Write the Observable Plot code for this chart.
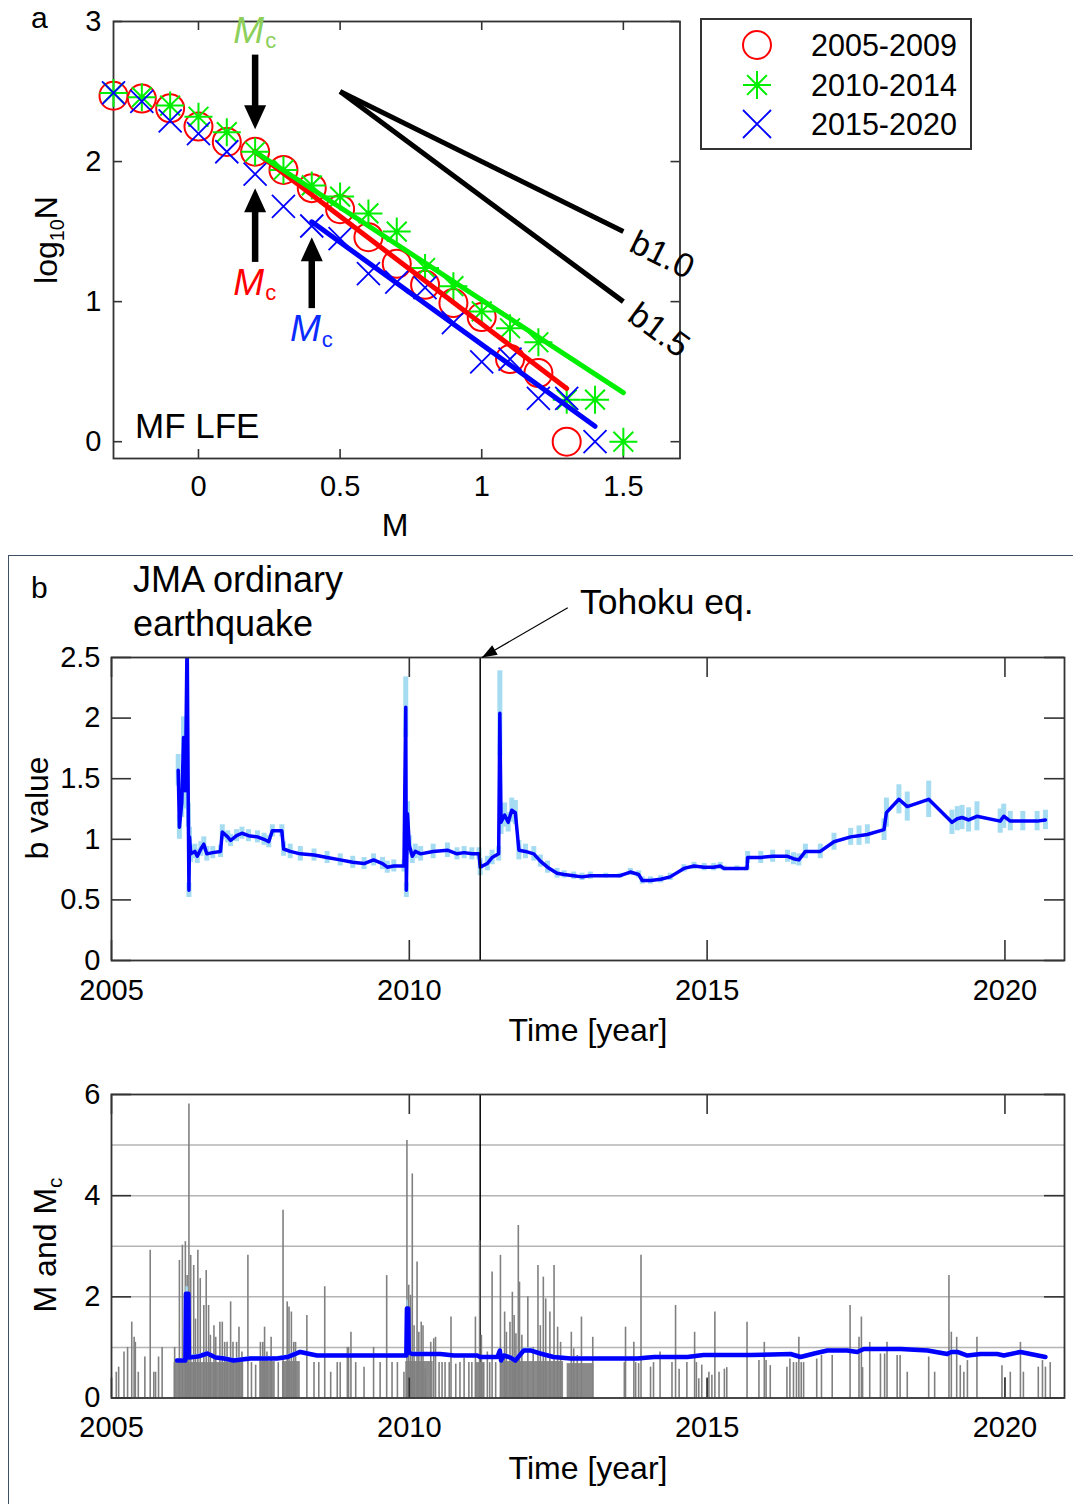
<!DOCTYPE html>
<html><head><meta charset="utf-8">
<script src="https://cdn.jsdelivr.net/npm/d3@7"></script>
<script src="https://cdn.jsdelivr.net/npm/@observablehq/plot@0.6"></script>
<style>
body{margin:0;background:#fff;}
#root{position:relative;width:1073px;height:1504px;overflow:hidden;font-family:"Liberation Sans",Arial,Helvetica,sans-serif;color:#000;background:#fff;}
.abs{position:absolute;white-space:nowrap;line-height:1;}
</style></head><body><div id="root"></div><script>
// ================= DATA =================
// Panel a: cumulative frequency-magnitude (log10 N) of MF LFEs
const magBins = [-0.3,-0.2,-0.1,0,0.1,0.2,0.3,0.4,0.5,0.6,0.7,0.8,0.9,1.0,1.1,1.2,1.3,1.4,1.5];
const logN_2005_2009 = [2.47,2.45,2.38,2.25,2.14,2.07,1.94,1.81,1.66,1.46,1.27,1.12,0.99,0.89,0.59,0.49,0.00,null,null];
const logN_2010_2014 = [2.49,2.46,2.40,2.32,2.21,2.07,1.94,1.83,1.75,1.63,1.50,1.24,1.11,0.93,0.81,0.71,0.30,0.30,0.00];
const logN_2015_2020 = [2.49,2.43,2.29,2.20,2.07,1.91,1.68,1.54,1.45,1.20,1.14,1.10,0.85,0.57,0.59,0.31,0.31,0.00,null];
const periodLabels = ["2005-2009","2010-2014","2015-2020"];
// fitted G-R lines (start/end magnitude and log10N) per period
const fitMagStart = [0.2, 0.2, 0.4];
const fitMagEnd   = [1.3, 1.5, 1.4];
const fitLogStart = [2.07, 2.07, 1.57];
const fitLogEnd   = [0.38, 0.35, 0.11];
// reference slopes
const refLabels = ["b1.0","b1.5"];
const refMagStart = [0.5, 0.5];
const refLogStart = [2.5, 2.5];
const refMagEnd = [1.5, 1.5];
const refLogEnd = [1.5, 1.0];
const refB = [1.0, 1.5];
// Mc annotations (red, green, blue)
const mcMag = [0.2, 0.2, 0.4];
const mcArrowTail = [1.28, 2.76, 0.95];
const mcArrowTip  = [1.81, 2.23, 1.46];
const mcLabelY    = [1.13, 2.93, 0.80];

// Panel b: b value through time (JMA ordinary earthquakes)
const bTime = [2006.12,2006.14,2006.18,2006.21,2006.24,2006.27,2006.29,2006.30,2006.31,2006.33,
 2006.40,2006.44,2006.50,2006.55,2006.60,2006.70,2006.83,2006.86,2006.95,
 2007.00,2007.10,2007.19,2007.30,2007.45,2007.56,2007.64,2007.70,2007.86,2007.89,
 2008.00,2008.17,2008.40,2008.62,2008.84,
 2009.05,2009.24,2009.40,2009.55,2009.63,2009.74,2009.91,2009.94,2009.95,2009.97,
 2010.00,2010.05,2010.10,
 2010.19,2010.40,2010.64,2010.80,2010.92,
 2011.05,2011.17,2011.19,2011.31,2011.39,2011.50,2011.52,2011.54,2011.60,2011.66,2011.72,2011.78,2011.84,2011.95,
 2012.09,2012.20,2012.32,2012.48,2012.60,2012.76,2012.90,
 2013.04,2013.30,2013.54,2013.71,2013.85,2013.91,
 2014.05,2014.22,2014.38,2014.61,2014.78,2014.95,
 2015.11,2015.22,2015.28,2015.50,2015.67,
 2015.68,2015.90,
 2016.10,2016.35,2016.45,2016.54,2016.65,2016.90,
 2017.13,2017.41,2017.55,2017.69,2017.97,
 2018.01,2018.22,2018.36,2018.72,
 2019.11,2019.20,2019.28,2019.39,2019.53,2019.92,2019.98,
 2020.09,2020.30,2020.54,2020.68];
const bValue = [1.57,1.10,1.30,1.84,1.40,2.70,1.20,0.58,1.02,0.88,
 0.90,0.86,0.92,0.96,0.88,0.89,0.90,1.06,1.02,
 0.99,1.03,1.05,1.03,1.02,1.00,0.98,1.07,1.07,0.92,
 0.90,0.88,0.87,0.85,0.83,
 0.81,0.80,0.83,0.80,0.77,0.78,0.78,2.09,0.58,1.21,
 0.95,0.86,0.90,
 0.88,0.90,0.91,0.88,0.89,
 0.88,0.88,0.77,0.80,0.85,0.88,2.04,1.14,1.20,1.14,1.24,1.22,0.91,0.90,
 0.88,0.82,0.77,0.72,0.71,0.70,0.69,
 0.70,0.70,0.70,0.73,0.71,0.66,
 0.66,0.67,0.69,0.76,0.78,0.77,
 0.77,0.78,0.76,0.76,0.76,
 0.85,0.85,
 0.86,0.86,0.84,0.83,0.90,0.90,
 0.98,1.02,1.03,1.04,1.08,
 1.22,1.33,1.27,1.33,
 1.14,1.17,1.18,1.16,1.19,1.15,1.19,
 1.15,1.15,1.15,1.16];
const bError = [0.13,0.10,0.12,0.17,0.15,0.20,0.10,0.06,0.08,0.07,
 0.06,0.06,0.06,0.06,0.06,0.05,0.05,0.06,0.05,
 0.05,0.05,0.05,0.05,0.05,0.05,0.05,0.05,0.05,0.06,
 0.06,0.06,0.05,0.05,0.05,
 0.05,0.05,0.05,0.05,0.05,0.05,0.05,0.25,0.06,0.10,
 0.08,0.06,0.06,
 0.06,0.06,0.06,0.05,0.05,
 0.05,0.05,0.07,0.06,0.06,0.06,0.35,0.10,0.10,0.08,0.10,0.10,0.08,0.06,
 0.06,0.05,0.05,0.04,0.03,0.03,0.03,
 0.03,0.02,0.02,0.03,0.03,0.03,
 0.03,0.03,0.03,0.03,0.03,0.03,
 0.03,0.03,0.02,0.02,0.02,
 0.05,0.05,
 0.05,0.05,0.05,0.05,0.06,0.06,
 0.07,0.07,0.08,0.08,0.09,
 0.12,0.12,0.12,0.15,
 0.10,0.10,0.10,0.10,0.12,0.10,0.10,
 0.08,0.08,0.08,0.08];
const tohokuTime = 2011.19;
const tohokuArrowTail = [2012.66, 2.91];
const tohokuArrowTip = [2011.22, 2.5];

// Panel c: magnitudes and Mc through time
const mcTime = [2006.10,2006.24,2006.25,2006.29,2006.30,2006.45,2006.61,2006.75,2006.89,2007.05,2007.33,2007.78,2007.95,2008.17,2008.45,2009.20,2009.85,2009.95,2009.96,2009.98,2009.99,2010.05,2010.36,2010.52,2010.75,2011.14,2011.19,2011.48,2011.52,2011.54,2011.59,2011.70,2011.78,2011.92,2012.03,2012.20,2012.42,2012.71,2013.30,2013.83,2014.11,2014.67,2014.94,2015.73,2016.10,2016.40,2016.57,2016.80,2017.02,2017.35,2017.52,2017.63,2018.25,2018.70,2019.03,2019.10,2019.20,2019.37,2019.59,2019.87,2019.98,2020.26,2020.68];
const mcValue = [0.74,0.74,2.06,2.06,0.80,0.82,0.88,0.80,0.78,0.74,0.78,0.78,0.81,0.91,0.84,0.84,0.84,0.84,1.77,1.77,0.90,0.87,0.87,0.87,0.84,0.84,0.81,0.81,0.94,0.74,0.84,0.80,0.74,0.94,0.94,0.88,0.81,0.78,0.78,0.78,0.81,0.81,0.85,0.85,0.86,0.87,0.81,0.88,0.94,0.94,0.91,0.97,0.97,0.94,0.87,0.91,0.91,0.84,0.87,0.87,0.84,0.91,0.81];
const mcError = [0.04,0.04,0.14,0.14,0.04,0.04,0.04,0.04,0.04,0.04,0.04,0.04,0.04,0.04,0.03,0.03,0.03,0.03,0.16,0.16,0.05,0.04,0.03,0.03,0.03,0.03,0.03,0.03,0.05,0.05,0.04,0.04,0.05,0.05,0.05,0.04,0.04,0.03,0.03,0.03,0.03,0.03,0.03,0.03,0.03,0.03,0.04,0.03,0.03,0.03,0.03,0.03,0.03,0.03,0.04,0.04,0.03,0.03,0.03,0.03,0.03,0.03,0.03];
const eventTime = [2005.08,2005.12,2005.21,2005.27,2005.34,2005.38,2005.40,2005.45,2005.56,2005.65,2005.71,2005.74,2005.79,2005.85,
 2006.06,2006.14,2006.19,2006.24,2006.27,2006.30,2006.33,2006.38,2006.41,2006.45,2006.49,2006.55,2006.59,2006.63,2006.66,2006.72,2006.75,2006.82,2006.86,2006.90,2006.94,
 2007.00,2007.04,2007.10,2007.14,2007.19,2007.29,2007.35,2007.42,2007.50,2007.54,2007.57,2007.61,2007.68,2007.80,2007.88,2007.95,2007.98,
 2008.02,2008.06,2008.09,2008.28,2008.40,2008.48,2008.58,2008.68,2008.79,2008.84,2008.96,2008.98,
 2009.02,2009.10,2009.24,2009.40,2009.51,2009.62,2009.71,2009.80,2009.91,2009.96,2009.99,
 2010.02,2010.05,2010.08,2010.13,2010.16,2010.20,2010.23,2010.27,2010.36,2010.41,2010.44,2010.50,2010.55,2010.60,2010.67,2010.70,2010.78,2010.85,2010.92,
 2011.00,2011.05,2011.11,2011.18,2011.21,2011.25,2011.31,2011.35,2011.39,2011.45,2011.53,2011.60,2011.63,2011.69,2011.73,2011.76,2011.79,2011.83,2011.85,2011.89,2011.99,
 2012.08,2012.16,2012.20,2012.25,2012.29,2012.36,2012.43,2012.49,2012.54,2012.72,2012.76,2012.82,2012.89,
 2013.08,2013.61,2013.63,2013.77,2013.80,2013.85,2013.89,
 2014.05,2014.10,2014.21,2014.41,2014.47,2014.53,2014.66,2014.79,2014.82,2014.86,2014.91,
 2015.00,2015.03,2015.08,2015.13,2015.20,2015.29,2015.33,2015.67,2015.87,2015.96,2015.99,
 2016.06,2016.34,2016.39,2016.45,2016.50,2016.54,2016.58,2016.62,2016.84,2016.92,
 2017.10,2017.40,2017.55,2017.59,2017.61,2017.73,2017.91,2017.98,
 2018.02,2018.19,2018.24,2018.36,2018.72,2018.82,
 2019.06,2019.10,2019.19,2019.25,2019.31,2019.37,2019.53,2019.95,
 2020.00,2020.09,2020.26,2020.31,2020.56,2020.63,2020.68,2020.76];
const eventMag = [0.51,0.61,0.91,1.00,1.50,1.20,1.10,0.51,0.81,2.92,0.51,0.51,0.81,1.00,
 1.00,2.72,3.02,3.09,2.42,5.81,2.82,2.62,1.56,2.92,2.36,1.83,2.52,1.83,1.24,1.43,1.20,1.50,1.50,1.10,1.10,
 1.90,1.10,1.10,1.40,0.91,2.82,0.70,0.65,1.10,1.10,1.40,0.91,1.20,0.70,3.71,1.90,1.80,
 1.70,1.10,1.10,1.63,0.70,0.70,2.20,0.51,0.70,0.70,1.00,1.00,
 1.30,0.70,0.61,1.00,0.70,2.42,0.70,0.70,0.51,5.09,2.23,
 2.03,4.43,1.43,2.69,1.30,1.50,1.43,0.57,1.10,1.17,1.20,0.70,0.70,0.70,0.70,1.60,0.67,0.70,0.78,
 0.70,0.70,1.60,3.11,1.24,0.70,0.91,0.70,2.49,0.70,2.82,1.70,1.30,1.50,2.09,1.63,1.27,3.41,2.29,1.24,2.00,
 1.00,2.62,1.43,2.39,1.96,1.70,2.62,1.40,1.10,1.30,0.97,0.84,1.60,
 1.20,0.70,1.40,1.10,0.70,0.68,2.82,
 0.61,0.70,0.91,0.70,1.83,0.57,0.70,1.30,0.70,0.38,0.65,
 0.38,0.51,0.45,1.70,0.51,0.57,0.60,1.50,0.74,1.10,0.74,
 0.64,0.61,0.77,0.70,0.70,1.20,0.70,0.70,0.77,0.84,
 0.84,1.83,1.20,1.60,0.60,1.10,0.87,0.87,
 1.10,0.84,0.84,0.51,0.81,0.51,
 2.42,1.30,1.20,0.64,0.51,0.74,1.20,0.64,
 0.40,0.51,1.10,0.51,0.61,0.74,0.61,0.70];
// periods of dense small-event activity (drawn as filled blocks)
const denseStart = [2006.05, 2007.49, 2007.87, 2009.94, 2011.11, 2011.53, 2012.65];
const denseEnd   = [2007.22, 2007.75, 2008.17, 2010.40, 2011.25, 2012.59, 2013.10];
const denseTop   = [0.70, 0.72, 0.72, 0.72, 0.70, 0.72, 0.68];
const gridLevels = [1, 2, 3, 4, 5];

// ticks
const aXTicks = [0, 0.5, 1, 1.5], aYTicks = [0, 1, 2, 3];
const yearTicks = [2005, 2010, 2015, 2020];
const bYTicks = [0, 0.5, 1, 1.5, 2, 2.5];
const cYTicks = [0, 2, 4, 6];

// ================= STYLE / HELPERS =================
const FONT = '"Liberation Sans", Arial, Helvetica, sans-serif';
const RED = "#ff0000", GREEN = "#00ee00", BLUE = "#0000ff";
const mcLabelColors = ["#ff0000", "#8ccf5a", "#0a2cff"];
const AXC = "#333333";
const LIGHTBLUE = "#a6dcf2";
const root = document.getElementById("root");

const asterisk8 = {draw(ctx, size){ const r = Math.sqrt(size/Math.PI), d = r*Math.SQRT1_2;
  ctx.moveTo(-r,0);ctx.lineTo(r,0);ctx.moveTo(0,-r);ctx.lineTo(0,r);
  ctx.moveTo(-d,-d);ctx.lineTo(d,d);ctx.moveTo(-d,d);ctx.lineTo(d,-d);}};
const timesX = {draw(ctx, size){ const r = Math.sqrt(size/Math.PI);
  ctx.moveTo(-r,-r);ctx.lineTo(r,r);ctx.moveTo(-r,r);ctx.lineTo(r,-r);}};
function triangle(ux, uy, L, Wd){ // tip at origin, pointing along (ux,uy)
  const n = Math.hypot(ux,uy); ux/=n; uy/=n; const px=-uy, py=ux, bx=-ux*L, by=-uy*L;
  return {draw(ctx){ ctx.moveTo(0,0); ctx.lineTo(bx+px*Wd/2, by+py*Wd/2); ctx.lineTo(bx-px*Wd/2, by-py*Wd/2); ctx.closePath(); }};
}
function boxTicks(xt, yt, pw, ph, len){
  const s = {stroke: AXC, strokeWidth: 1.6};
  return [
    Plot.ruleX(xt, {x: d=>d, insetTop: ph-len, ...s}),
    Plot.ruleX(xt, {x: d=>d, insetBottom: ph-len, ...s}),
    Plot.ruleY(yt, {y: d=>d, insetRight: pw-len, ...s}),
    Plot.ruleY(yt, {y: d=>d, insetLeft: pw-len, ...s}),
    Plot.frame({stroke: AXC, strokeWidth: 1.8})
  ];
}
function place(svg, top){ svg.style.position="absolute"; svg.style.left="0px"; svg.style.top=top+"px"; root.appendChild(svg); }
function addText(html, x, baseline, size, opts={}){
  const d = document.createElement("div"); d.className="abs"; d.innerHTML = html;
  d.style.fontSize = size+"px"; d.style.left = x+"px"; d.style.top = (baseline - 0.8465*size)+"px";
  if (opts.center) d.style.transform = "translateX(-50%)";
  if (opts.color) d.style.color = opts.color;
  root.appendChild(d); return d;
}
function addRotText(html, cx, cy, size){
  const d = document.createElement("div"); d.className="abs"; d.innerHTML = html;
  d.style.fontSize = size+"px"; d.style.left = cx+"px"; d.style.top = cy+"px";
  d.style.transform = "translate(-50%,-50%) rotate(-90deg)";
  root.appendChild(d); return d;
}
const baseStyle = {fontFamily: FONT, fontSize: "29px", color: "#000", background: "transparent", overflow: "visible"};

// ================= PANEL A =================
{
  const W = 710, H = 545, L = 113, R = 679.5, T = 21, B = 458;
  const pw = R - L, ph = B - T;
  const xDom = [-0.3, 1.7], yDom = [-0.12, 3];
  const pts = [logN_2005_2009, logN_2010_2014, logN_2015_2020].map(arr =>
    arr.map((v,j) => ({M: magBins[j], logN: v})).filter(d => d.logN != null));
  const fits = fitMagStart.map((m,i) => [{M: m, L: fitLogStart[i]}, {M: fitMagEnd[i], L: fitLogEnd[i]}]);
  const pxX = pw/(xDom[1]-xDom[0]), pxY = ph/(yDom[1]-yDom[0]);
  const refs = refLabels.map((lab,i) => ({label: lab, M0: refMagStart[i], L0: refLogStart[i], M1: refMagEnd[i], L1: refLogEnd[i],
    angle: Math.atan(refB[i]*pxY/pxX)*180/Math.PI}));
  const mcs = mcMag.map((m,i) => ({m, tail: mcArrowTail[i], tip: mcArrowTip[i], ly: mcLabelY[i], color: mcLabelColors[i]}));
  const up = mcs.filter(d => d.tip > d.tail), down = mcs.filter(d => d.tip < d.tail);
  const svg = Plot.plot({
    width: W, height: H, marginLeft: L, marginRight: W-R, marginTop: T, marginBottom: H-B,
    x: {domain: xDom, axis: null}, y: {domain: yDom, axis: null}, color: {type: "identity"},
    style: baseStyle,
    marks: [
      ...boxTicks(aXTicks, aYTicks, pw, ph, 9),
      Plot.dot(pts[0], {x: "M", y: "logN", symbol: "circle", r: 14, stroke: RED, strokeWidth: 2, fill: "none"}),
      Plot.dot(pts[1], {x: "M", y: "logN", symbol: asterisk8, r: 14, stroke: GREEN, strokeWidth: 2, fill: "none"}),
      Plot.dot(pts[2], {x: "M", y: "logN", symbol: timesX, r: 11.5, stroke: BLUE, strokeWidth: 1.8, fill: "none"}),
      Plot.line(fits[0], {x: "M", y: "L", stroke: RED, strokeWidth: 5}),
      Plot.line(fits[2], {x: "M", y: "L", stroke: BLUE, strokeWidth: 5}),
      Plot.line(fits[1], {x: "M", y: "L", stroke: GREEN, strokeWidth: 5}),
      Plot.link(refs, {x1: "M0", y1: "L0", x2: "M1", y2: "L1", stroke: "#000", strokeWidth: 5}),
      Plot.text(refs, {x: "M1", y: "L1", text: "label", rotate: "angle", textAnchor: "start", fontSize: 34, dx: 9, dy: 9}),
      Plot.ruleX(up, {x: "m", y1: "tip", y2: "tail", stroke: "#000", strokeWidth: 6.5, insetTop: 9}),
      Plot.ruleX(down, {x: "m", y1: "tail", y2: "tip", stroke: "#000", strokeWidth: 6.5, insetBottom: 9}),
      Plot.dot(up, {x: "m", y: "tip", symbol: triangle(0,-1,24,22), r: 5, fill: "#000"}),
      Plot.dot(down, {x: "m", y: "tip", symbol: triangle(0,1,24,22), r: 5, fill: "#000"}),
      Plot.text(mcs, {x: "m", y: "ly", text: () => "M", fill: "color", fontStyle: "italic", fontSize: 37, textAnchor: "end", dx: 9}),
      Plot.text(mcs, {x: "m", y: "ly", text: () => "c", fill: "color", fontSize: 22, textAnchor: "start", dx: 10, dy: 10}),
      Plot.axisX(aXTicks, {anchor: "bottom", tickSize: 0, tickPadding: 17, tickFormat: d => String(d), label: null}),
      Plot.axisY(aYTicks, {anchor: "left", tickSize: 0, tickPadding: 12, tickFormat: d => String(d), label: null})
    ]
  });
  place(svg, 0);
}

// legend for panel a
{
  const box = document.createElement("div");
  box.style.cssText = "position:absolute;left:700px;top:18px;width:268px;height:128px;border:2.5px solid #333;background:#fff;";
  root.appendChild(box);
  const ys = [45, 85, 124];
  const symSvg = [
    `<circle cx="20" cy="20" r="14" fill="none" stroke="${RED}" stroke-width="2"/>`,
    `<path d="M6,20H34M20,6V34M10.1,10.1L29.9,29.9M10.1,29.9L29.9,10.1" stroke="${GREEN}" stroke-width="2" fill="none"/>`,
    `<path d="M6,6L34,34M6,34L34,6" stroke="${BLUE}" stroke-width="1.8" fill="none"/>`
  ];
  periodLabels.forEach((lab,i) => {
    const s = document.createElement("div");
    s.style.cssText = `position:absolute;left:${757-20}px;top:${ys[i]-20}px;width:40px;height:40px;`;
    s.innerHTML = `<svg width="40" height="40">${symSvg[i]}</svg>`;
    root.appendChild(s);
    addText(lab, 811, ys[i] + 0.358*30, 30.5);
  });
}

// ================= PANEL B (b value) =================
const YW = 1073, yL = 111, yR = 1064, yearDom = [2005, 2021];
{
  const top = 560, H = 500, T = 97, B = 400;
  const pw = yR - yL, ph = B - T;
  const yDom = [0, 2.5];
  const rows = bTime.map((t,i) => ({t, b: bValue[i], e: bError[i] ?? 0.05}));
  const pxX = pw/(yearDom[1]-yearDom[0]), pxY = ph/(yDom[1]-yDom[0]);
  const arrow = [{t0: tohokuArrowTail[0], b0: tohokuArrowTail[1], t1: tohokuArrowTip[0], b1: tohokuArrowTip[1]}];
  const head = triangle((arrow[0].t1-arrow[0].t0)*pxX, -(arrow[0].b1-arrow[0].b0)*pxY, 15, 11);
  const svg = Plot.plot({
    width: YW, height: H, marginLeft: yL, marginRight: YW-yR, marginTop: T, marginBottom: H-B,
    x: {domain: yearDom, axis: null}, y: {domain: yDom, axis: null},
    style: baseStyle,
    marks: [
      Plot.ruleX(rows, {x: "t", y1: d => d.b - d.e, y2: d => d.b + d.e, stroke: LIGHTBLUE, strokeWidth: 5, clip: true}),
      Plot.line(rows, {x: "t", y: "b", stroke: BLUE, strokeWidth: 3.5, clip: true}),
      Plot.ruleX([tohokuTime], {x: d => d, stroke: "#000", strokeWidth: 1.5}),
      ...boxTicks(yearTicks, bYTicks, pw, ph, 20),
      Plot.link(arrow, {x1: "t0", y1: "b0", x2: "t1", y2: "b1", stroke: "#000", strokeWidth: 1.2}),
      Plot.dot(arrow, {x: "t1", y: "b1", symbol: head, r: 5, fill: "#000"}),
      Plot.axisX(yearTicks, {anchor: "bottom", tickSize: 0, tickPadding: 19, tickFormat: d => String(d), label: null}),
      Plot.axisY(bYTicks, {anchor: "left", tickSize: 0, tickPadding: 11, tickFormat: d => String(d), label: null})
    ]
  });
  place(svg, top);
}

// ================= PANEL C (M and Mc) =================
{
  const top = 1060, H = 444, T = 34, B = 337.5;
  const pw = yR - yL, ph = B - T;
  const yDom = [0, 6];
  const mcRows = mcTime.map((t,i) => ({t, v: mcValue[i], e: mcError[i] ?? 0.03}));
  const events = eventTime.map((t,i) => ({t, m: eventMag[i]}));
  const dense = denseStart.map((s,i) => ({t0: s, t1: denseEnd[i], top: denseTop[i]}));
  const svg = Plot.plot({
    width: YW, height: H, marginLeft: yL, marginRight: YW-yR, marginTop: T, marginBottom: H-B,
    x: {domain: yearDom, axis: null}, y: {domain: yDom, axis: null},
    style: baseStyle,
    marks: [
      Plot.ruleY(gridLevels, {y: d => d, stroke: "#b4b4b4", strokeWidth: 1.5}),
      Plot.ruleX([tohokuTime], {x: d => d, stroke: "#000", strokeWidth: 1.5}),
      Plot.rect(dense, {x1: "t0", x2: "t1", y1: 0, y2: "top", fill: "#8a8a8a"}),
      Plot.ruleX(events, {x: "t", y1: 0, y2: "m", stroke: "#808080", strokeWidth: 1.6}),
      Plot.areaY(mcRows, {x: "t", y1: d => d.v - d.e, y2: d => d.v + d.e, fill: LIGHTBLUE}),
      Plot.line(mcRows, {x: "t", y: "v", stroke: BLUE, strokeWidth: 4.5}),
      ...boxTicks(yearTicks, cYTicks, pw, ph, 20),
      Plot.axisX(yearTicks, {anchor: "bottom", tickSize: 0, tickPadding: 18, tickFormat: d => String(d), label: null}),
      Plot.axisY(cYTicks, {anchor: "left", tickSize: 0, tickPadding: 11, tickFormat: d => String(d), label: null})
    ]
  });
  place(svg, top);
}

// ================= TEXT / FRAME OVERLAYS =================
{
  const border = document.createElement("div");
  border.style.cssText = "position:absolute;left:8px;top:555px;width:1100px;height:1000px;border-left:1.5px solid #3d5066;border-top:1.5px solid #3d5066;";
  root.appendChild(border);
}
addText("a", 31, 28, 30);
addText("MF LFE", 135, 438, 35);
addText("M", 395, 536, 32, {center: true});
addRotText('log<span style="font-size:0.62em;position:relative;top:0.35em">10</span>N', 46, 240, 32);

addText("b", 31, 598, 30);
addText("JMA ordinary", 133, 592, 36);
addText("earthquake", 133, 636, 36);
addText("Tohoku eq.", 580, 615, 35.5);
addRotText("b value", 37, 808, 32);
addText("Time [year]", 588, 1041, 32, {center: true});

addRotText('M and M<span style="font-size:0.65em;position:relative;top:0.3em">c</span>', 45, 1245, 32);
addText("Time [year]", 588, 1479, 32, {center: true});
</script></body></html>
